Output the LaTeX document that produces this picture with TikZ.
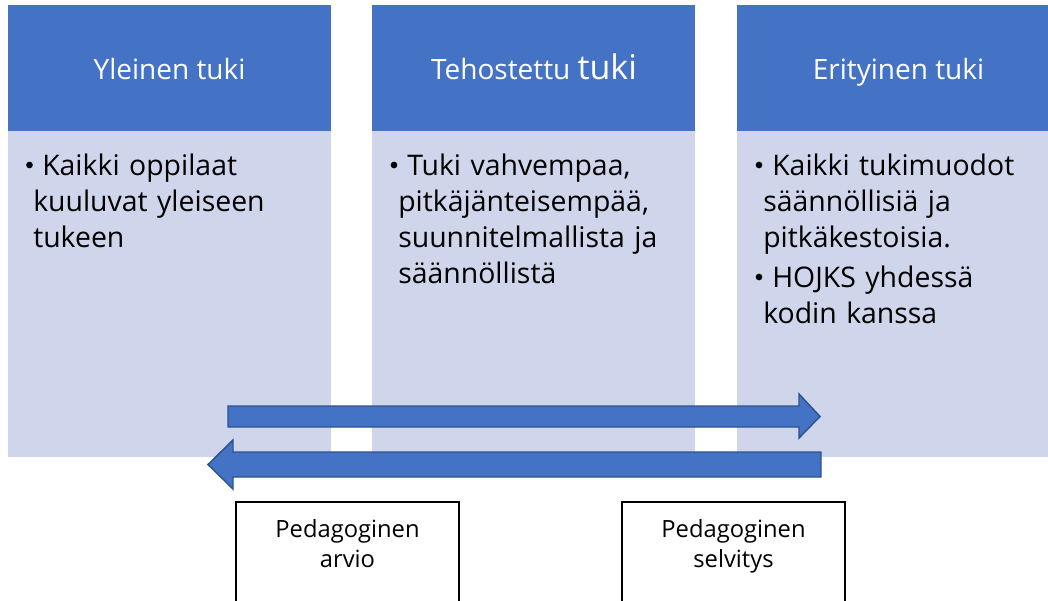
\documentclass[tikz,border=0pt]{standalone}
\usepackage{fontspec}
\setmainfont{Open Sans}
\definecolor{hdrblue}{HTML}{4472C4}
\definecolor{bodybg}{HTML}{CFD5EA}
\definecolor{arrowedge}{HTML}{2F528F}
\tikzset{
  hdr/.style={fill=hdrblue},
  bodyrect/.style={fill=bodybg},
  hdrtext/.style={text=white, font=\fontsize{21}{25}\selectfont, anchor=base, inner sep=0pt},
  bodytext/.style={text=black, font=\fontsize{21.3}{27}\selectfont, anchor=base west, inner sep=0pt, text width=247pt, align=left},
  bul/.style={circle, fill=black, inner sep=0pt, minimum size=5pt},
  blockarrow/.style={fill=hdrblue, draw=arrowedge, line width=1.1pt, line join=miter},
  labelbox/.style={draw=black, fill=white, line width=0.8pt},
  boxtext/.style={text=black, font=\fontsize{17.8}{22.5}\selectfont, anchor=base, inner sep=0pt, text width=160pt, align=center},
}
\begin{document}
\begin{tikzpicture}[x=0.75pt, y=-0.75pt]
\useasboundingbox (0,0) rectangle (1048,600);
\clip (0,0) rectangle (1048,600);
\fill[white] (0,0) rectangle (1048,600);
% columns
\fill[hdr] (8,5) rectangle (331,131);
\fill[bodyrect] (8,131) rectangle (331,457);
\fill[hdr] (372,5) rectangle (695,131);
\fill[bodyrect] (372,131) rectangle (695,457);
\fill[hdr] (737,5) rectangle (1060,131);
\fill[bodyrect] (737,131) rectangle (1060,457);
% headers
\node[hdrtext] (h1) at (169.5,79) {Yleinen tuki};
\node[hdrtext] (h2) at (534,79) {Tehostettu {\fontsize{25.5}{28}\selectfont tuki}};
\node[hdrtext] (h3) at (898.5,79) {Erityinen tuki};
% bodies
\node[bul] (b1) at (29.5,165) {};
\node[bodytext] (t1) at (33,175) {\hspace*{6.75pt}Kaikki oppilaat\\kuuluvat yleiseen\\tukeen};
\node[bul] (b2) at (394,165) {};
\node[bodytext] (t2) at (398,175) {\hspace*{6.75pt}Tuki vahvempaa,\\pitkäjänteisempää,\\suunnitelmallista ja\\säännöllistä};
\node[bul] (b3) at (759,165) {};
\node[bodytext] (t3) at (763,175) {\hspace*{6.75pt}Kaikki tukimuodot\\säännöllisiä ja\\pitkäkestoisia.};
\node[bul] (b4) at (759,277) {};
\node[bodytext] (t4) at (763,287) {\hspace*{6.75pt}HOJKS yhdessä\\kodin kanssa};
% block arrows
\draw[blockarrow] (228,406) -- (799,406) -- (799,394) -- (820,416.5) -- (799,438) -- (799,427) -- (228,427) -- cycle;
\draw[blockarrow] (821,452) -- (233,452) -- (233,440) -- (208,464.5) -- (233,489) -- (233,477) -- (821,477) -- cycle;
% bottom boxes
\draw[labelbox] (236,502) rectangle (459,640);
\node[boxtext] (p1) at (347.5,537) {Pedagoginen\\arvio};
\draw[labelbox] (622,502) rectangle (845,640);
\node[boxtext] (p2) at (733.5,537) {Pedagoginen\\selvitys};
\end{tikzpicture}
\end{document}
